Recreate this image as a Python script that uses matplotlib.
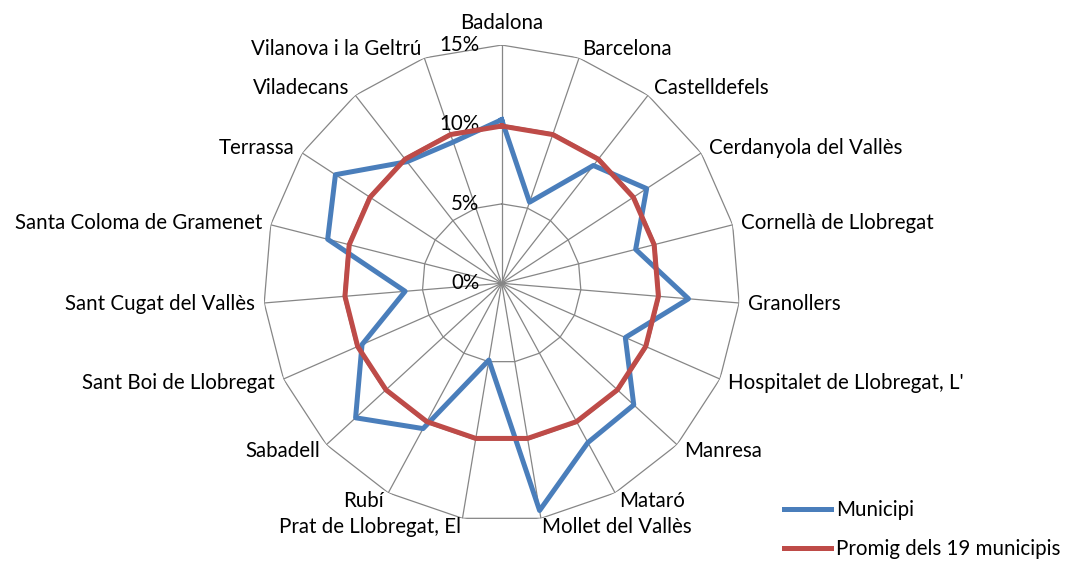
import numpy as np
import matplotlib.pyplot as plt

plt.rcParams['font.family'] = ['Lato', 'DejaVu Sans']

# municipis, en sentit horari des de dalt
municipis = ['Badalona', 'Barcelona', 'Castelldefels', 'Cerdanyola del Vallès',
             'Cornellà de Llobregat', 'Granollers', "Hospitalet de Llobregat, L'",
             'Manresa', 'Mataró', 'Mollet del Vallès', 'Prat de Llobregat, El',
             'Rubí', 'Sabadell', 'Sant Boi de Llobregat', 'Sant Cugat del Vallès',
             'Santa Coloma de Gramenet', 'Terrassa', 'Viladecans',
             'Vilanova i la Geltrú']
municipi = [10.3, 5.4, 9.4, 10.9, 8.7, 11.8, 8.5, 11.3, 11.4, 14.5,
            4.9, 10.4, 12.5, 9.6, 6.1, 11.3, 12.5, 9.7, 9.4]
promig = [9.9] * 19
nivells = [0, 5, 10, 15]
nivells_txt = ['0%', '5%', '10%', '15%']

blau = '#4A7EBB'
vermell = '#BE4B48'
gris = '#868686'
fs = 14.8

n = len(municipis)
angles = np.linspace(0, 2 * np.pi, n, endpoint=False)
ang_tancat = np.append(angles, angles[0])

fig = plt.figure(figsize=(10.69, 5.61), dpi=100)
ax = fig.add_axes([0.2464, 0.0702, 0.4458, 0.8496], projection='polar')
ax.set_theta_zero_location('N')
ax.set_theta_direction(-1)
ax.set_ylim(0, 15)
ax.grid(False)
ax.spines['polar'].set_visible(False)
ax.set_xticks([])
ax.set_yticks([])

# graella poligonal tipus excel
for nv in nivells[1:]:
    ax.plot(ang_tancat, [nv] * (n + 1), color=gris, lw=0.9, zorder=1)
for a in angles:
    ax.plot([a, a], [0, 15], color=gris, lw=0.9, zorder=1)

for nv, t in zip(nivells, nivells_txt):
    ax.annotate(t, xy=(0, nv), xytext=(-16, 0), textcoords='offset points',
                ha='right', va='center', fontsize=fs)

for a, nom in zip(angles, municipis):
    s, c = np.sin(a), np.cos(a)
    if abs(s) < 0.1:
        ha = 'center'
        off = (0, 16 * c)
    else:
        ha = 'left' if s > 0 else 'right'
        off = (6.5 * s, 6.5 * c)
    ax.annotate(nom, xy=(a, 15), xytext=off, textcoords='offset points',
                ha=ha, va='center', fontsize=fs, annotation_clip=False)

ax.plot(ang_tancat, municipi + municipi[:1], color=blau, lw=3.6,
        label='Municipi', zorder=3)
ax.plot(ang_tancat, promig + promig[:1], color=vermell, lw=3.6,
        label='Promig dels 19 municipis', zorder=3)

fig.legend(loc='upper left', bbox_to_anchor=(0.733, 0.108), frameon=False,
           fontsize=fs, handlelength=2.3, handletextpad=0.25,
           labelspacing=0.9, borderpad=0, borderaxespad=0)

fig.savefig('out.png', dpi=100)
